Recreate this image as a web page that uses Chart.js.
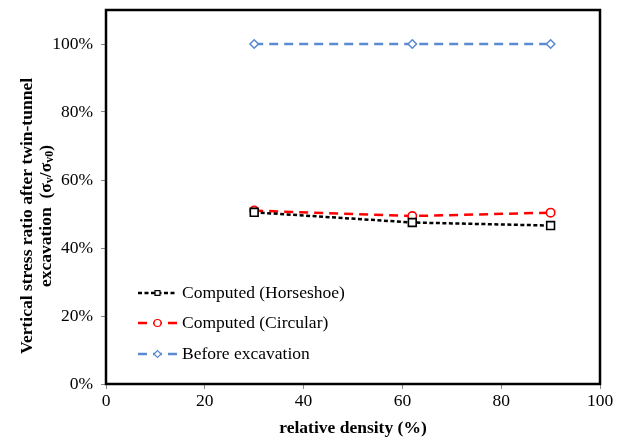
<!DOCTYPE html>
<html><head><meta charset="utf-8">
<script src="https://cdn.jsdelivr.net/npm/chart.js@4"></script>
<style>html,body{margin:0;padding:0;background:#fff}</style>
</head><body>
<canvas id="c" width="624" height="442"></canvas>
<script>
const relativeDensity = [30, 62, 90];
const horseshoe = [50.5, 47.5, 46.6];
const circular = [51.0, 49.4, 50.4];
const beforeExcavation = [100, 100, 100];
const seriesNames = ['Computed (Horseshoe)', 'Computed (Circular)', 'Before excavation'];
const xTicks = [0, 20, 40, 60, 80, 100];
const yTicks = [0, 20, 40, 60, 80, 100];
const xTitle = 'relative density (%)';
const yTitleLine1 = 'Vertical stress ratio after twin-tunnel';
const yTitleLine2 = [['excavation  (σ', false], ['v', true], ['/σ', false], ['v0', true], [')', false]];

const SERIF = '"Liberation Serif", "Times New Roman", serif';
const FS = 17.5;
const pts = arr => relativeDensity.map((x, i) => ({x: x, y: arr[i]}));

const styles = [
  {color: '#000000', dash: [4, 2.5], width: 2.5, point: 'rect', radius: 5.5, pbw: 1.6},
  {color: '#ff0000', dash: [9, 6], width: 2.5, point: 'circle', radius: 4.2, pbw: 1.6},
  {color: '#5b8bd0', dash: [9, 6], width: 2.5, point: 'rectRot', radius: 4.2, pbw: 1.6}
];
const values = [horseshoe, circular, beforeExcavation];

const datasets = values.map((v, i) => ({
  label: seriesNames[i],
  data: pts(v),
  borderColor: styles[i].color,
  backgroundColor: '#ffffff',
  borderWidth: styles[i].width,
  borderDash: styles[i].dash,
  pointStyle: styles[i].point,
  pointRadius: styles[i].radius,
  pointBorderWidth: styles[i].pbw,
  pointBackgroundColor: '#ffffff',
  pointBorderColor: styles[i].color,
  tension: 0
}));

const framePlugin = {
  id: 'frame',
  afterDraw(chart) {
    const {ctx, chartArea: a} = chart;
    ctx.save();
    ctx.strokeStyle = '#000';
    ctx.lineWidth = 2.5;
    ctx.strokeRect(a.left, a.top, a.right - a.left, a.bottom - a.top);
    ctx.restore();
  }
};

const legendPlugin = {
  id: 'customLegend',
  afterDraw(chart) {
    const ctx = chart.ctx;
    const ys = [293, 323, 354];
    ctx.save();
    chart.data.datasets.forEach((ds, i) => {
      const y = ys[i];
      ctx.strokeStyle = ds.borderColor;
      ctx.lineWidth = ds.borderWidth;
      ctx.setLineDash(ds.borderDash);
      ctx.beginPath();
      ctx.moveTo(138, y);
      ctx.lineTo(177, y);
      ctx.stroke();
      ctx.setLineDash([]);
      ctx.fillStyle = '#fff';
      ctx.strokeStyle = ds.borderColor;
      ctx.lineWidth = 1.2;
      Chart.helpers.drawPoint(ctx, {pointStyle: ds.pointStyle, radius: 3.5, borderWidth: 1.2, rotation: 0}, 157.5, y);
      ctx.fillStyle = '#000';
      ctx.font = FS + 'px ' + SERIF;
      ctx.textBaseline = 'middle';
      ctx.textAlign = 'left';
      ctx.fillText(ds.label, 182, y);
    });
    ctx.restore();
  }
};

const yTitlePlugin = {
  id: 'yTitle',
  afterDraw(chart) {
    const ctx = chart.ctx;
    const a = chart.chartArea;
    const cy = (a.top + a.bottom) / 2 + 19;
    ctx.save();
    ctx.fillStyle = '#000';
    ctx.textBaseline = 'middle';
    ctx.translate(0, cy);
    ctx.rotate(-Math.PI / 2);
    const big = 'bold ' + FS + 'px ' + SERIF;
    const small = 'bold 12px ' + SERIF;
    ctx.font = big;
    ctx.textAlign = 'center';
    ctx.fillText(yTitleLine1, 0, 27);
    let total = 0;
    yTitleLine2.forEach(([t, sub]) => { ctx.font = sub ? small : big; total += ctx.measureText(t).width; });
    let x = -total / 2;
    ctx.textAlign = 'left';
    yTitleLine2.forEach(([t, sub]) => {
      ctx.font = sub ? small : big;
      ctx.fillText(t, x, sub ? 50 : 46);
      x += ctx.measureText(t).width;
    });
    ctx.restore();
  }
};

new Chart(document.getElementById('c'), {
  type: 'line',
  data: {datasets: datasets},
  options: {
    responsive: false,
    animation: false,
    devicePixelRatio: 1,
    layout: {padding: {top: 10, right: 24, left: 0, bottom: 0}},
    plugins: {legend: {display: false}, tooltip: {enabled: false}},
    scales: {
      x: {
        type: 'linear', min: 0, max: 100,
        afterBuildTicks: s => { s.ticks = xTicks.map(v => ({value: v})); },
        afterFit: s => { s.height = 58; s.paddingLeft = 0; s.paddingRight = 0; },
        ticks: {font: {family: SERIF, size: FS}, color: '#000', padding: 2, maxRotation: 0},
        grid: {drawOnChartArea: false, drawTicks: true, tickLength: 5, color: '#888'},
        border: {display: false},
        title: {display: true, text: xTitle, color: '#000', font: {family: SERIF, size: FS, weight: 'bold'}, padding: {top: 0, bottom: 3}}
      },
      y: {
        type: 'linear', min: 0, max: 110,
        afterBuildTicks: s => { s.ticks = yTicks.map(v => ({value: v})); },
        afterFit: s => { s.width = 106; s.paddingTop = 0; s.paddingBottom = 0; },
        ticks: {font: {family: SERIF, size: FS}, color: '#000', padding: 8, callback: v => v + '%'},
        grid: {drawOnChartArea: false, drawTicks: true, tickLength: 5, color: '#888'},
        border: {display: false}
      }
    }
  },
  plugins: [framePlugin, legendPlugin, yTitlePlugin]
});
</script>
</body></html>
